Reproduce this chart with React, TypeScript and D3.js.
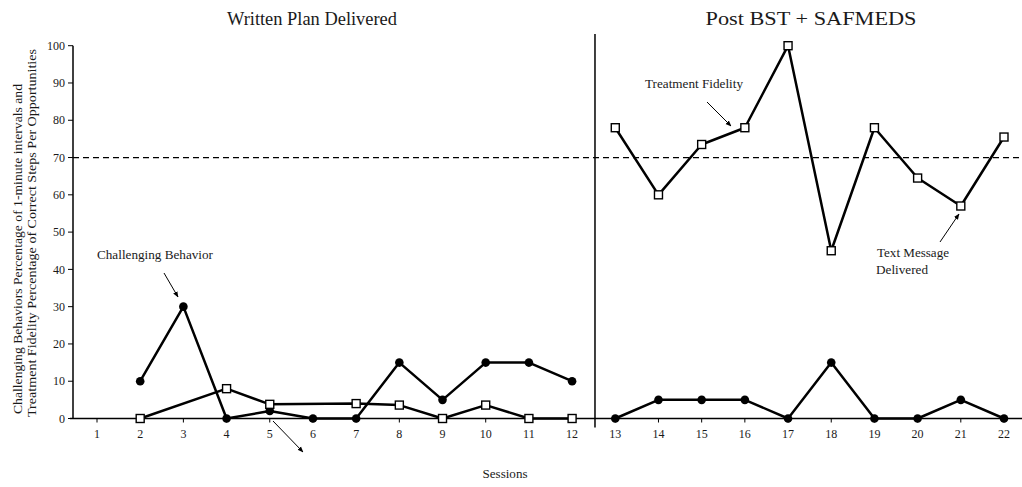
import React from "react";
import * as d3 from "d3";

// Sessions 1–22; baseline phase covers 1–12, intervention 13–22
const sessions = d3.range(1, 23);
const xTickLabels = sessions.map(String);
const yTicks = [0, 10, 20, 30, 40, 50, 60, 70, 80, 90, 100];

// Challenging behavior (% of 1-minute intervals), null = no session data
const challengingBaseline: (number | null)[] = [null, 10, 30, 0, 2, 0, 0, 15, 5, 15, 15, 10];
const challengingPost: (number | null)[] = [0, 5, 5, 5, 0, 15, 0, 0, 5, 0];

// Treatment fidelity (% correct steps per opportunity)
const fidelityBaseline: (number | null)[] = [null, 0, null, 8, 3.8, null, 4, 3.6, 0, 3.6, 0, 0];
const fidelityPost: (number | null)[] = [78, 60, 73.5, 78, 100, 45, 78, 64.5, 57, 75.5];

const criterion = 70;
const phaseTitles = ["Written Plan Delivered", "Post BST + SAFMEDS"];

const W = 1022;
const H = 487;
const FONT = "'Liberation Serif', 'Times New Roman', serif";

type Pt = { s: number; v: number };

function toPoints(values: (number | null)[], firstSession: number): Pt[] {
  return values
    .map((v, i) => ({ s: firstSession + i, v }))
    .filter((d): d is Pt => d.v !== null);
}

export default function App() {
  const x = d3.scaleLinear().domain([1, 22]).range([97, 1004]);
  const y = d3.scaleLinear().domain([0, 100]).range([418.5, 45.7]);

  const line = d3
    .line<Pt>()
    .x((d) => x(d.s))
    .y((d) => y(d.v));

  const cbA = toPoints(challengingBaseline, 1);
  const cbB = toPoints(challengingPost, 13);
  const tfA = toPoints(fidelityBaseline, 1);
  const tfB = toPoints(fidelityPost, 13);

  const phaseX = x(12.53);
  const axisLeft = 73;
  const y0 = y(0);

  const textFill = "#1a1a1a";

  return (
    <svg
      width={W}
      height={H}
      style={{ position: "absolute", left: 0, top: 0, background: "#fff" }}
      fontFamily={FONT}
    >
      <defs>
        <marker
          id="arrowhead"
          viewBox="0 0 10 10"
          refX="9"
          refY="5"
          markerWidth="6"
          markerHeight="6"
          orient="auto"
        >
          <path d="M0,1 L10,5 L0,9 Z" fill="#000" />
        </marker>
      </defs>

      {/* phase titles */}
      <text x={312} y={25} fontSize={19} textAnchor="middle" fill={textFill} textLength={170} lengthAdjust="spacingAndGlyphs">
        {phaseTitles[0]}
      </text>
      <text x={811} y={25} fontSize={19} textAnchor="middle" fill={textFill} textLength={211} lengthAdjust="spacingAndGlyphs">
        {phaseTitles[1]}
      </text>

      {/* y axis title, reading upward from the bottom of the axis */}
      <g transform={`translate(22, 414) rotate(-90)`}>
        <text x={0} y={0} fontSize={13} textAnchor="start" fill={textFill} textLength={330} lengthAdjust="spacingAndGlyphs">
          Challenging Behaviors Percentage of 1-minute intervals and
        </text>
        <text x={-3} y={14} fontSize={13} textAnchor="start" fill={textFill} textLength={368} lengthAdjust="spacingAndGlyphs">
          Treatment Fidelity Percentage of Correct Steps Per Opportunities
        </text>
      </g>

      {/* axes */}
      <line x1={axisLeft} y1={y(100)} x2={axisLeft} y2={y0} stroke="#000" strokeWidth={1.5} />
      <line x1={axisLeft - 3} y1={y0} x2={W} y2={y0} stroke="#000" strokeWidth={1.5} />
      {yTicks.map((t) => (
        <g key={t}>
          <line x1={axisLeft - 5} x2={axisLeft} y1={y(t)} y2={y(t)} stroke="#000" strokeWidth={1} />
          <text x={axisLeft - 8} y={y(t)} dy="0.35em" fontSize={12} textAnchor="end" fill={textFill}>
            {t}
          </text>
        </g>
      ))}
      {sessions.map((s, i) => (
        <g key={s}>
          <line x1={x(s)} x2={x(s)} y1={y0} y2={y0 + 4} stroke="#000" strokeWidth={1} />
          <text x={x(s)} y={y0 + 19} fontSize={12} textAnchor="middle" fill={textFill}>
            {xTickLabels[i]}
          </text>
        </g>
      ))}
      <text x={505} y={478} fontSize={12.5} textAnchor="middle" fill={textFill} textLength={45} lengthAdjust="spacingAndGlyphs">
        Sessions
      </text>

      {/* criterion line */}
      <line
        x1={axisLeft}
        x2={W}
        y1={y(criterion)}
        y2={y(criterion)}
        stroke="#000"
        strokeWidth={1.3}
        strokeDasharray="6,4"
      />

      {/* phase change line */}
      <line x1={phaseX} x2={phaseX} y1={34} y2={y0 + 9} stroke="#000" strokeWidth={1.5} />

      {/* data paths */}
      {[cbA, cbB, tfA, tfB].map((pts, i) => (
        <path key={i} d={line(pts) ?? ""} fill="none" stroke="#000" strokeWidth={2.5} strokeLinejoin="round" />
      ))}

      {/* challenging behavior markers */}
      {[...cbA, ...cbB].map((d, i) => (
        <circle key={`c${i}`} cx={x(d.s)} cy={y(d.v)} r={4.3} fill="#000" />
      ))}

      {/* fidelity markers */}
      {[...tfA, ...tfB].map((d, i) => (
        <rect
          key={`r${i}`}
          x={x(d.s) - 4}
          y={y(d.v) - 4}
          width={8}
          height={8}
          fill="#fff"
          stroke="#000"
          strokeWidth={1.4}
        />
      ))}

      {/* annotations */}
      <text x={97} y={259} fontSize={12} fill={textFill} textLength={116} lengthAdjust="spacingAndGlyphs">
        Challenging Behavior
      </text>
      <line x1={164} y1={273} x2={178} y2={297} stroke="#000" strokeWidth={1} markerEnd="url(#arrowhead)" />

      <line x1={273} y1={421} x2={303} y2={452} stroke="#000" strokeWidth={1} markerEnd="url(#arrowhead)" />

      <text x={645} y={88} fontSize={12} fill={textFill} textLength={98} lengthAdjust="spacingAndGlyphs">
        Treatment Fidelity
      </text>
      <line x1={707} y1={102} x2={731} y2={126} stroke="#000" strokeWidth={1} markerEnd="url(#arrowhead)" />

      <text x={877} y={257} fontSize={12} fill={textFill} textLength={72} lengthAdjust="spacingAndGlyphs">
        Text Message
      </text>
      <text x={876} y={274} fontSize={12} fill={textFill} textLength={52} lengthAdjust="spacingAndGlyphs">
        Delivered
      </text>
      <line x1={940} y1={242} x2={959} y2={214} stroke="#000" strokeWidth={1} markerEnd="url(#arrowhead)" />
    </svg>
  );
}
